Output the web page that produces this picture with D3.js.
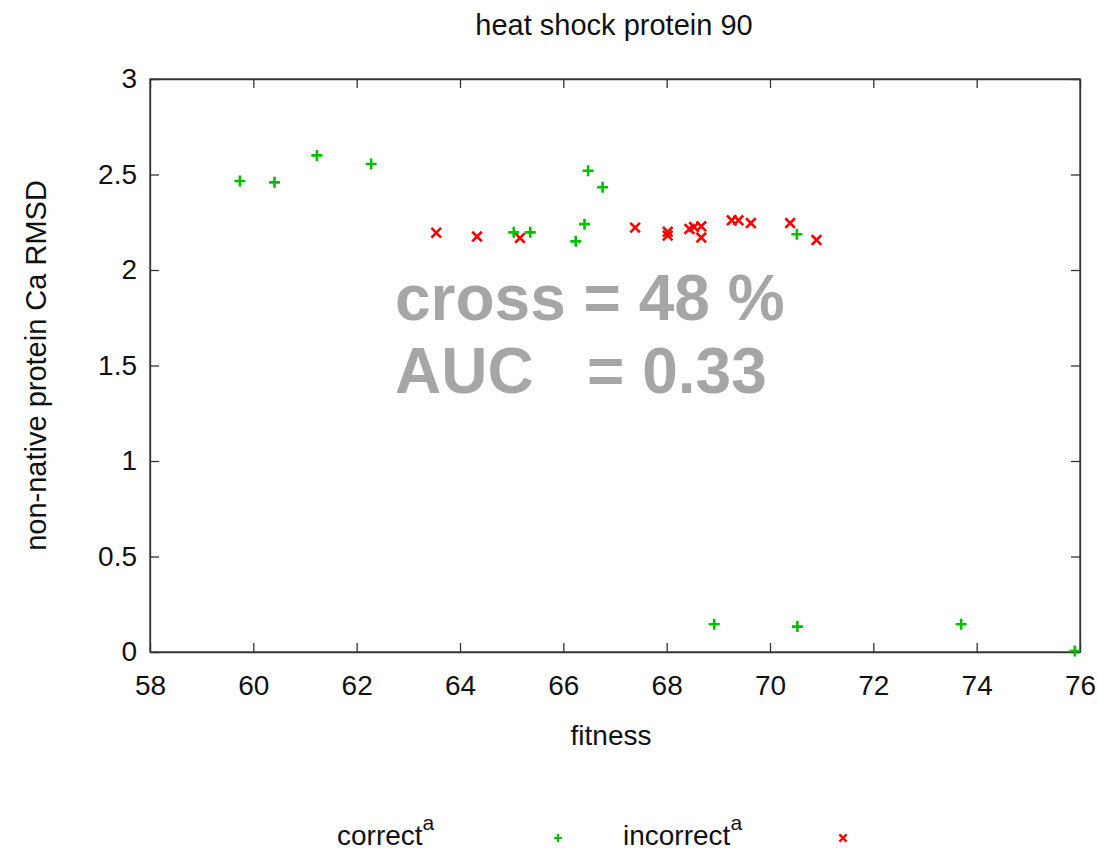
<!DOCTYPE html>
<html>
<head>
<meta charset="utf-8">
<script src="https://cdn.jsdelivr.net/npm/d3@7/dist/d3.min.js"></script>
<style>
  html, body { margin: 0; padding: 0; background: #fff; }
  svg { display: block; font-family: "Liberation Sans", Arial, sans-serif; }
</style>
</head>
<body>
<div id="chart"></div>
<script>
// heat shock protein 90 — fitness vs non-native RMSD scatter, correct (+) and incorrect (x) poses.

const correctFitness = [59.74, 60.41, 61.23, 62.28, 65.04, 65.36, 66.24, 66.41, 66.48, 66.76, 70.52, 68.92, 70.53, 73.70, 75.90];
const correctRmsd    = [2.466, 2.459, 2.600, 2.555, 2.197, 2.197, 2.150, 2.240, 2.520, 2.433, 2.187, 0.145, 0.133, 0.145, 0.005];

const incorrectFitness = [63.54, 64.33, 65.16, 67.39, 68.02, 68.02, 68.44, 68.53, 68.67, 68.67, 69.26, 69.39, 69.63, 70.39, 70.90];
const incorrectRmsd    = [2.195, 2.175, 2.168, 2.222, 2.200, 2.180, 2.215, 2.225, 2.229, 2.170, 2.260, 2.260, 2.246, 2.246, 2.157];

const xTicks = [58, 60, 62, 64, 66, 68, 70, 72, 74, 76];
const yTicks = [0, 0.5, 1, 1.5, 2, 2.5, 3];

const title = 'heat shock protein 90';
const xLabel = 'fitness';
const yLabel = 'non-native protein Ca RMSD';
const statLines = ['cross = 48 %', 'AUC   = 0.33'];
const legendNames = ['correct', 'incorrect'];

const W = 1099, H = 851;
const plotLeft = 150, plotRight = 1080, plotTop = 79, plotBottom = 652;
const green = '#00c000', red = '#ff0000', axisColor = '#333', textColor = '#111';

const svg = d3.select('#chart').append('svg')
    .attr('width', W)
    .attr('height', H);

const x = d3.scaleLinear().domain([58, 76]).range([plotLeft, plotRight]);
const y = d3.scaleLinear().domain([0, 3]).range([plotBottom, plotTop]);

// Axes, ticks pointing inward on all four sides
const tick = 9;

svg.append('g').attr('transform', `translate(0,${plotBottom})`)
    .call(d3.axisBottom(x).tickValues(xTicks).tickSizeInner(-tick).tickSizeOuter(0).tickPadding(23).tickFormat(d3.format('d')));

svg.append('g').attr('transform', `translate(${plotLeft},0)`)
    .call(d3.axisLeft(y).tickValues(yTicks).tickSizeInner(-tick).tickSizeOuter(0).tickPadding(13).tickFormat(d => d));

svg.append('g').attr('transform', `translate(0,${plotTop})`)
    .call(d3.axisTop(x).tickValues(xTicks).tickSizeInner(-tick).tickSizeOuter(0).tickFormat(''));
svg.append('g').attr('transform', `translate(${plotRight},0)`)
    .call(d3.axisRight(y).tickValues(yTicks).tickSizeInner(-tick).tickSizeOuter(0).tickFormat(''));

svg.selectAll('.domain, .tick line').attr('stroke', axisColor).attr('stroke-width', 1.3);
svg.selectAll('.tick text').attr('font-size', 28).attr('fill', textColor)
    .attr('font-family', '"Liberation Sans", Arial, sans-serif');

svg.append('rect')
    .attr('x', plotLeft).attr('y', plotTop)
    .attr('width', plotRight - plotLeft).attr('height', plotBottom - plotTop)
    .attr('fill', 'none').attr('stroke', axisColor).attr('stroke-width', 1.3);

// Titles
svg.append('text')
    .attr('x', (plotLeft + plotRight) / 2 - 1).attr('y', 35)
    .attr('text-anchor', 'middle').attr('font-size', 29).attr('fill', textColor)
    .text(title);

svg.append('text')
    .attr('x', 611).attr('y', 745)
    .attr('text-anchor', 'middle').attr('font-size', 28).attr('fill', textColor)
    .text(xLabel);

svg.append('text')
    .attr('transform', `translate(46,${(plotTop + plotBottom) / 2}) rotate(-90)`)
    .attr('text-anchor', 'middle').attr('font-size', 29).attr('fill', textColor)
    .text(yLabel);

// Stats annotation
svg.append('g').selectAll('text').data(statLines).join('text')
    .attr('x', 395)
    .attr('y', (d, i) => 320 + i * 73)
    .attr('font-size', 64).attr('font-weight', 'bold').attr('fill', '#a6a6a6')
    .style('white-space', 'pre')
    .text(d => d);

// Markers
const plusPath = s => `M${-s},0H${s}M0,${-s}V${s}`;
const crossPath = s => `M${-s},${-s}L${s},${s}M${-s},${s}L${s},${-s}`;

const correct = correctFitness.map((f, i) => ({ f, r: correctRmsd[i] }));
const incorrect = incorrectFitness.map((f, i) => ({ f, r: incorrectRmsd[i] }));

svg.append('g').selectAll('path').data(incorrect).join('path')
    .attr('transform', d => `translate(${x(d.f)},${y(d.r)})`)
    .attr('d', crossPath(4.8))
    .attr('stroke', red).attr('stroke-width', 2.6).attr('fill', 'none');

svg.append('g').selectAll('path').data(correct).join('path')
    .attr('transform', d => `translate(${x(d.f)},${y(d.r)})`)
    .attr('d', plusPath(5.5))
    .attr('stroke', green).attr('stroke-width', 2.6).attr('fill', 'none');

// Legend
const legend = svg.append('g');
const legendX = [337, 623], markerX = [558, 843];

legendNames.forEach((name, i) => {
    const t = legend.append('text')
        .attr('x', legendX[i]).attr('y', 845)
        .attr('font-size', 28).attr('fill', textColor);
    t.append('tspan').text(name);
    t.append('tspan').attr('dy', -15).attr('font-size', 21).text('a');
});

legend.append('path')
    .attr('transform', `translate(${markerX[0]},838)`)
    .attr('d', plusPath(4)).attr('stroke', green).attr('stroke-width', 2.2);
legend.append('path')
    .attr('transform', `translate(${markerX[1]},838)`)
    .attr('d', crossPath(3.6)).attr('stroke', red).attr('stroke-width', 2.4);
</script>
</body>
</html>
